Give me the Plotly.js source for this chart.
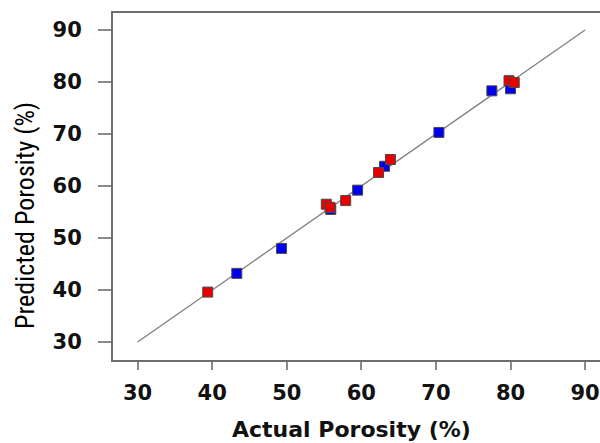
<!DOCTYPE html>
<html>
<head>
<meta charset="utf-8">
<script src="https://cdn.plot.ly/plotly-3.0.1.min.js"></script>
<style>
html,body{margin:0;padding:0;background:#fff;overflow:hidden;}
#chart{width:600px;height:443px;}
</style>
</head>
<body>
<div id="chart"></div>
<script>
// Reference 1:1 line
const lineX = [30, 90];
const lineY = [30, 90];

// Blue series (actual vs predicted)
const blueX = [43.3, 49.3, 55.9, 59.5, 63.1, 70.4, 77.5, 80.0];
const blueY = [43.2, 48.0, 55.5, 59.2, 63.8, 70.3, 78.3, 78.7];

// Red series (actual vs predicted)
const redX = [39.4, 55.3, 55.8, 57.9, 62.3, 63.9, 79.8, 80.5];
const redY = [39.6, 56.5, 55.9, 57.2, 62.6, 65.1, 80.25, 79.9];

// Tick values and labels
const tickVals = [30, 40, 50, 60, 70, 80, 90];
const tickText = ["30", "40", "50", "60", "70", "80", "90"];

const xTitle = "Actual Porosity (%)";
const yTitle = "Predicted Porosity (%)";

const traces = [
  {x: lineX, y: lineY, type: "scatter", mode: "lines",
   line: {color: "#7f7f7f", width: 1.3}, hoverinfo: "skip"},
  {x: blueX, y: blueY, type: "scatter", mode: "markers",
   marker: {symbol: "square", size: 10, color: "#0000f0",
            line: {color: "#4a4a4a", width: 1}}},
  {x: redX, y: redY, type: "scatter", mode: "markers",
   marker: {symbol: "square", size: 10, color: "#e80000",
            line: {color: "#4a4a4a", width: 1}}}
];

const tickFont = {family: "DejaVu Sans", size: 21, color: "#111", weight: "bold"};

const layout = {
  width: 600, height: 443,
  margin: {l: 113, r: 0, t: 13, b: 83, pad: 0},
  paper_bgcolor: "#fff", plot_bgcolor: "#fff",
  showlegend: false,
  xaxis: {
    range: [26.7, 92.0], tickmode: "array", tickvals: tickVals, ticktext: tickText,
    showgrid: false, zeroline: false, showline: true, mirror: true,
    linecolor: "#6e6e6e", linewidth: 2,
    ticks: "outside", ticklen: 8, tickwidth: 2, tickcolor: "#8a8a8a",
    ticklabelstandoff: 5,
    tickfont: tickFont
  },
  yaxis: {
    range: [26.54, 93.27], tickmode: "array", tickvals: tickVals, ticktext: tickText,
    showgrid: false, zeroline: false, showline: true, mirror: false,
    linecolor: "#6e6e6e", linewidth: 2,
    ticks: "outside", ticklen: 13, tickwidth: 2, tickcolor: "#8a8a8a",
    ticklabelstandoff: 12,
    tickfont: tickFont
  },
  annotations: [
    {text: xTitle, xref: "paper", yref: "paper", x: (351 - 113) / 487, y: -(429 - 360) / 347,
     xanchor: "center", yanchor: "middle", showarrow: false,
     font: {family: "DejaVu Sans", size: 22, color: "#111", weight: "bold"}},
    {text: yTitle, xref: "paper", yref: "paper", x: (25 - 113) / 487, y: (360 - 216) / 347,
     xanchor: "center", yanchor: "middle", showarrow: false, textangle: -90,
     font: {family: "Liberation Sans Narrow, Arial Narrow, Roboto Condensed, Noto Sans", size: 26, color: "#000"}}
  ]
};

Plotly.newPlot("chart", traces, layout, {displayModeBar: false, staticPlot: true});
</script>
</body>
</html>
